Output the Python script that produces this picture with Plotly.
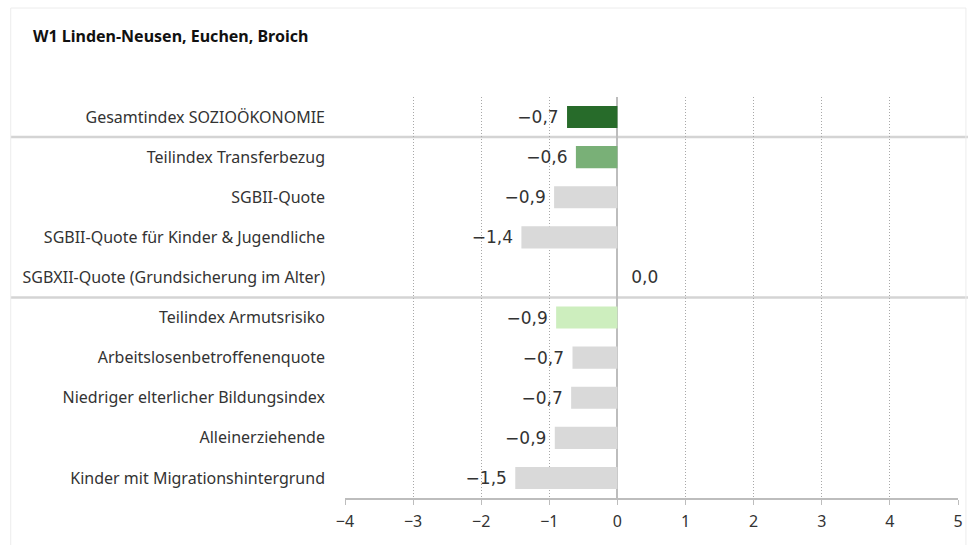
import plotly.graph_objects as go

title = "W1 Linden-Neusen, Euchen, Broich"
categories = [
    "Gesamtindex SOZIOÖKONOMIE",
    "Teilindex Transferbezug",
    "SGBII-Quote",
    "SGBII-Quote für Kinder & Jugendliche",
    "SGBXII-Quote (Grundsicherung im Alter)",
    "Teilindex Armutsrisiko",
    "Arbeitslosenbetroffenenquote",
    "Niedriger elterlicher Bildungsindex",
    "Alleinerziehende",
    "Kinder mit Migrationshintergrund",
]
values = [-0.74, -0.61, -0.93, -1.41, 0.0, -0.90, -0.66, -0.68, -0.92, -1.50]
bar_colors = ["#276b2a", "#79b077", "#d9d9d9", "#d9d9d9", "#d9d9d9",
              "#cdeebe", "#d9d9d9", "#d9d9d9", "#d9d9d9", "#d9d9d9"]
x_ticks = [-4, -3, -2, -1, 0, 1, 2, 3, 4, 5]
separators_after = [0, 4]


def fmt(v):
    s = f"{abs(v):.1f}".replace(".", ",")
    if round(v, 1) < 0:
        return "\u2212" + s + "\u00a0"
    return "\u00a0\u00a0" + s


FONT = "Noto Sans"
NUMFONT = "DejaVu Sans"
W, H = 973, 545
L, R, T, B = 345, 10, 97, 47
pw, ph = W - L - R, H - T - B


def px_x(p):
    return (p - L) / pw


def px_y(p):
    return (H - B - p) / ph


fig = go.Figure()
fig.add_trace(go.Bar(
    y=categories, x=values, orientation="h",
    marker=dict(color=bar_colors, line=dict(width=0)),
    width=0.55,
    text=[fmt(v) for v in values],
    textposition="outside",
    textfont=dict(family=NUMFONT, size=17, color="#333333"),
    cliponaxis=False,
    hoverinfo="skip",
))

shapes = []
for s in separators_after:
    shapes.append(dict(type="line", xref="paper", yref="y",
                       x0=px_x(8), x1=px_x(973), y0=s + 0.5, y1=s + 0.5,
                       line=dict(color="#d4d4d4", width=2.5), layer="below"))
shapes.append(dict(type="rect", xref="paper", yref="paper",
                   x0=px_x(8), x1=px_x(971), y0=px_y(560), y1=px_y(8),
                   line=dict(color="#ececec", width=1), layer="below"))

fig.update_layout(
    width=W, height=H,
    margin=dict(l=L, r=R, t=T, b=B),
    paper_bgcolor="white", plot_bgcolor="white",
    showlegend=False,
    shapes=shapes,
    title=dict(text="<b>" + title + "</b>", x=33 / W, xanchor="left",
               y=1 - 36 / H, yanchor="middle",
               font=dict(family=FONT, size=16, color="#111111")),
    font=dict(family=FONT, color="#333333"),
    xaxis=dict(range=[-4, 5], tickvals=x_ticks, showgrid=True,
               gridcolor="#a8a8a8", griddash="1px,2px", gridwidth=1,
               zeroline=True, zerolinecolor="#bdbdbd", zerolinewidth=1.5,
               showline=True, linecolor="#bdbdbd", linewidth=1.5,
               ticks="outside", ticklen=5, tickcolor="#bdbdbd",
               ticklabelstandoff=3,
               tickfont=dict(family=FONT, size=16, color="#333333"),
               fixedrange=True),
    yaxis=dict(categoryorder="array", categoryarray=categories,
               autorange=False, range=[9.5, -0.5],
               showgrid=False, zeroline=False, showline=False,
               ticks="", ticklabelstandoff=19,
               tickfont=dict(family=FONT, size=16, color="#333333"),
               fixedrange=True),
)

fig.write_html("out.html", config={"displayModeBar": False},
               post_script="document.body.style.margin='0';")
